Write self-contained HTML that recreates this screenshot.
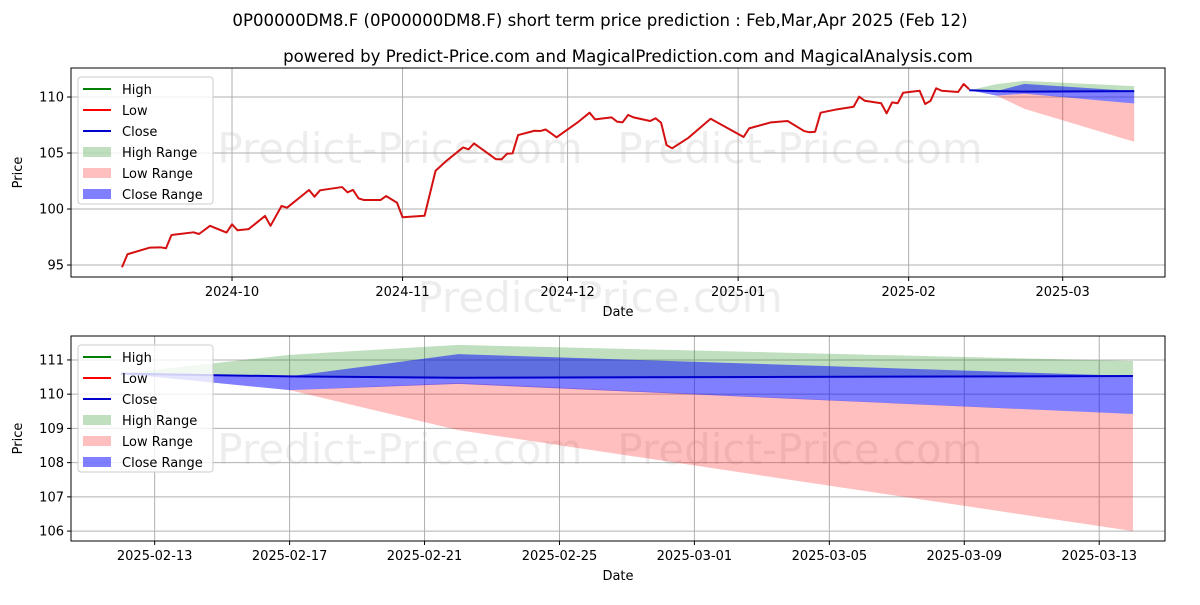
<!DOCTYPE html>
<html><head><meta charset="utf-8"><style>
body{margin:0;background:#fff;}
svg text{font-family:"DejaVu Sans","Liberation Sans",sans-serif;}
</style></head><body>
<svg id="fig" width="1200" height="600" xmlns="http://www.w3.org/2000/svg">
<rect width="1200" height="600" fill="#fff"/>
<text x="600" y="26" text-anchor="middle" font-size="16.6">0P00000DM8.F (0P00000DM8.F) short term price prediction : Feb,Mar,Apr 2025 (Feb 12)</text>
<text x="628" y="62" text-anchor="middle" font-size="16.6">powered by Predict-Price.com and MagicalPrediction.com and MagicalAnalysis.com</text>
<g id="top"></g>
<g id="bot"></g>
</svg>
<script>
// history: day offsets from 2024-09-01
const histDays=[10,11,15,17,18,19,23,24,26,29,30,31,33,36,37,39,40,44,45,46,50,51,52,53,54,57,58,60,61,65,67,69,72,73,74,78,79,80,81,82,85,86,87,88,89,93,95,96,99,100,101,102,103,106,107,108,109,110,113,117,123,124,128,131,134,135,136,137,140,143,144,145,148,149,150,151,152,155,156,157,158,159,162,163,164];
const histLow=[94.8,95.96,96.55,96.58,96.5,97.68,97.92,97.77,98.5,97.9,98.63,98.1,98.2,99.38,98.5,100.27,100.12,101.7,101.1,101.67,101.96,101.49,101.7,100.95,100.8,100.8,101.16,100.56,99.26,99.4,103.42,104.31,105.5,105.33,105.86,104.44,104.44,104.94,104.97,106.6,106.99,106.96,107.1,106.76,106.4,107.8,108.6,108.0,108.18,107.8,107.74,108.4,108.18,107.86,108.1,107.7,105.7,105.42,106.37,108.06,106.43,107.2,107.74,107.86,106.96,106.85,106.9,108.6,108.9,109.13,110.03,109.67,109.44,108.54,109.52,109.44,110.38,110.56,109.38,109.67,110.78,110.56,110.45,111.16,110.69];
// forecast: day offsets from 2025-02-12
const fcDays=[0,5,10,30];
const closeVals=[110.6,110.52,110.48,110.53];
const highUpper=[110.6,111.15,111.44,110.97];
const highLower=[110.6,110.52,110.48,110.53];
const lowUpper=[110.6,110.12,110.33,109.42];
const lowLower=[110.6,110.12,108.95,106.0];
const closeUpper=[110.6,110.52,111.17,110.53];
const closeLower=[110.6,110.12,110.3,109.42];
const topYTicks=[95,100,105,110];
const topXTickLabels=['2024-10','2024-11','2024-12','2025-01','2025-02','2025-03'];
const topXTickDays=[30,61,91,122,153,181];
const botYTicks=[106,107,108,109,110,111];
const botXTickLabels=['2025-02-13','2025-02-17','2025-02-21','2025-02-25','2025-03-01','2025-03-05','2025-03-09','2025-03-13'];
const botXTickDays=[1,5,9,13,17,21,25,29];
const FC_START=164;

const NS='http://www.w3.org/2000/svg';
function mk(p,tag,at){const e=document.createElementNS(NS,tag);for(const k in at)e.setAttribute(k,at[k]);p.appendChild(e);return e;}

function drawChart(g,o){
  const {L,R,T,B,x0,x1,y0,y1}=o;
  const X=d=>L+(d-x0)/(x1-x0)*(R-L), Y=v=>B-(v-y0)/(y1-y0)*(B-T);
  o.wm.forEach(w=>{const t=mk(g,'text',{x:w[0],y:w[1],'font-size':42,fill:'#000','fill-opacity':0.07,'text-anchor':'middle'});t.textContent='Predict-Price.com';
    
    });
  o.yt.forEach(v=>{const y=Y(v);
    const l=mk(g,'line',{x1:L,x2:R,y1:y,y2:y,stroke:'#b0b0b0','stroke-width':1});
    
    
    mk(g,'line',{x1:L-4,x2:L,y1:y,y2:y,stroke:'#000'});
    const t=mk(g,'text',{x:L-7,y:y+4.5,'font-size':13,'text-anchor':'end'});t.textContent=v;
    
    });
  o.xd.forEach((d,i)=>{const x=X(d);
    const l=mk(g,'line',{x1:x,x2:x,y1:T,y2:B,stroke:'#b0b0b0','stroke-width':1});
    
    
    mk(g,'line',{x1:x,x2:x,y1:B,y2:B+4,stroke:'#000'});
    const t=mk(g,'text',{x:x,y:B+19,'font-size':13,'text-anchor':'middle'});t.textContent=o.xl[i];
    
    });
  const band=(up,lo,fill,op,name)=>{
    let pts=fcDays.map((d,i)=>X(d+o.off)+','+Y(up[i]));
    pts=pts.concat(fcDays.map((d,i)=>[d,i]).reverse().map(([d,i])=>X(d+o.off)+','+Y(lo[i])));
    const p=mk(g,'polygon',{points:pts.join(' '),fill:fill,'fill-opacity':op});
    
    };
  band(highUpper,highLower,'#008000',0.25,'high-range-band');
  band(lowUpper,lowLower,'#ff0000',0.25,'low-range-band');
  band(closeUpper,closeLower,'#0000ff',0.5,'close-range-band');
  if(o.hist){
    const p=mk(g,'polyline',{points:histDays.map((d,i)=>X(d)+','+Y(histLow[i])).join(' '),fill:'none',stroke:'#d41010','stroke-width':2,'stroke-linejoin':'round'});
    
    
  }
  const c=mk(g,'polyline',{points:fcDays.map((d,i)=>X(d+o.off)+','+Y(closeVals[i])).join(' '),fill:'none',stroke:'#0000cc','stroke-width':2});
  
  
  mk(g,'rect',{x:L,y:T,width:R-L,height:B-T,fill:'none',stroke:'#000','stroke-width':1});
  const yl=mk(g,'text',{x:0,y:0,'font-size':13,'text-anchor':'middle',transform:`translate(${L-49},${(T+B)/2}) rotate(-90)`});yl.textContent='Price';
  
  
  const xl=mk(g,'text',{x:(L+R)/2,y:B+39,'font-size':13,'text-anchor':'middle'});xl.textContent='Date';
  
  
  const lg=mk(g,'g',{});
  
  
  const lx=L+7, ly=T+9;
  mk(lg,'rect',{x:lx,y:ly,width:135,height:127,rx:3,fill:'#fff','fill-opacity':0.8,stroke:'#ccc'});
  const items=[['High','line','#008000'],['Low','line','#ff0000'],['Close','line','#0000cc'],['High Range','box','rgba(0,128,0,0.25)'],['Low Range','box','rgba(255,0,0,0.25)'],['Close Range','box','rgba(0,0,255,0.5)']];
  items.forEach((it,i)=>{const cy=ly+12+i*21;
    const e=mk(lg,'g',{});
    
    
    if(it[1]=='line')mk(e,'line',{x1:lx+5,x2:lx+33,y1:cy,y2:cy,stroke:it[2],'stroke-width':2});
    else mk(e,'rect',{x:lx+5,y:cy-5,width:28,height:10,fill:it[2]});
    const t=mk(e,'text',{x:lx+44,y:cy+5,'font-size':13});t.textContent=it[0];});
}
drawChart(document.getElementById('top'),{L:71,R:1165,T:68,B:277,x0:0.73,x1:199.6,y0:93.93,y1:112.59,yt:topYTicks,xd:topXTickDays,xl:topXTickLabels,off:FC_START,hist:true,wm:[[400,163],[800,163],[600,312]]});
drawChart(document.getElementById('bot'),{L:71,R:1165,T:336,B:541,x0:-1.48,x1:30.95,y0:105.71,y1:111.70,yt:botYTicks,xd:botXTickDays,xl:botXTickLabels,off:0,hist:false,wm:[[400,464],[800,464]]});
</script>
</body></html>
